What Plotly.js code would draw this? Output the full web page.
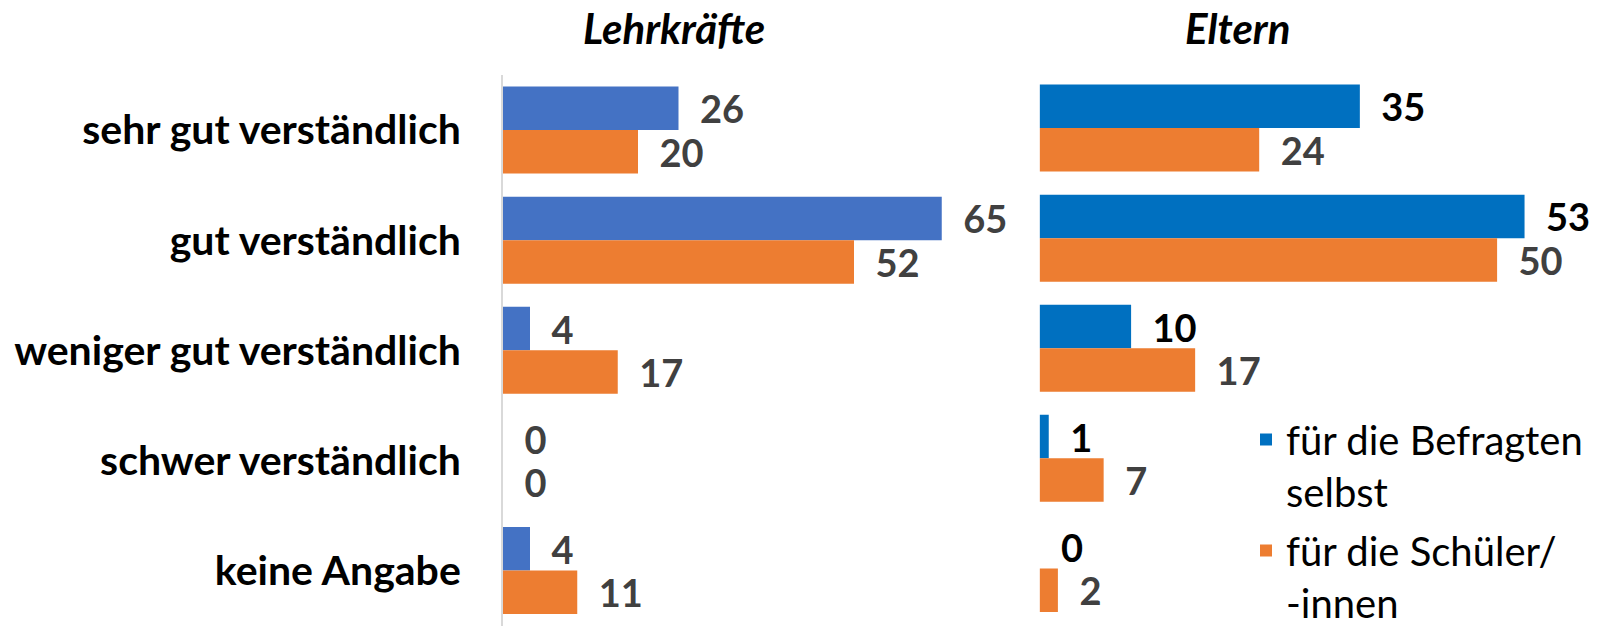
<!DOCTYPE html>
<html>
<head>
<meta charset="utf-8">
<script src="https://cdn.plot.ly/plotly-3.0.1.min.js"></script>
<style>html,body{margin:0;padding:0;background:#fff;}#chart{width:1609px;height:629px;}</style>
</head>
<body>
<div id="chart"></div>
<script>
const categories = ["sehr gut verständlich", "gut verständlich", "weniger gut verständlich", "schwer verständlich", "keine Angabe"];
const panelTitles = ["Lehrkräfte", "Eltern"];
const seriesNames = ["für die Befragten<br>selbst", "für die Schüler/<br>-innen"];
const lehrkraefteSelbst = [26, 65, 4, 0, 4];
const lehrkraefteSchueler = [20, 52, 17, 0, 11];
const elternSelbst = [35, 53, 10, 1, 0];
const elternSchueler = [24, 50, 17, 7, 2];

const FONT = "Lato, 'Open Sans', sans-serif";
const LBL = 38;
const tmpl = "\u00a0\u00a0%{x}";

function barTrace(x, color, textColor, xa, ya, name, showlegend, group) {
  return {
    type: "bar", orientation: "h", x: x, y: categories, name: name,
    xaxis: xa, yaxis: ya, showlegend: showlegend, legendgroup: group,
    marker: {color: color},
    texttemplate: tmpl, textposition: "outside", cliponaxis: false,
    constraintext: "none",
    textfont: {family: FONT, size: LBL, color: textColor, weight: 700},
    hoverinfo: "skip"
  };
}

const data = [
  barTrace(lehrkraefteSelbst, "#4472C4", "#404040", "x", "y", seriesNames[0], false, "g1"),
  barTrace(lehrkraefteSchueler, "#ED7D31", "#404040", "x", "y", seriesNames[1], false, "g2"),
  barTrace(elternSelbst, "#0070C0", "#000000", "x2", "y2", seriesNames[0], true, "g1"),
  barTrace(elternSchueler, "#ED7D31", "#404040", "x2", "y2", seriesNames[1], true, "g2")
];

const W = 1609, H = 629;
const layout = {
  width: W, height: H,
  margin: {l: 0, r: 0, t: 0, b: 0, autoexpand: false},
  paper_bgcolor: "#ffffff", plot_bgcolor: "rgba(0,0,0,0)",
  barmode: "group", bargap: 0.21, bargroupgap: 0,
  font: {family: FONT, color: "#000"},
  xaxis: {domain: [503 / W, 1000 / W], range: [0, 497 / 6.75], showgrid: false, zeroline: false, showticklabels: false, ticks: "", fixedrange: true},
  yaxis: {domain: [1 - 625.6 / H, 1 - 75 / H], type: "category", categoryorder: "array", categoryarray: categories,
          range: [4.5, -0.5], anchor: "x", showgrid: false, zeroline: false, ticks: "",
          showline: true, linecolor: "#D9D9D9", linewidth: 2,
          ticklabelstandoff: 32, automargin: false,
          tickfont: {family: FONT, size: 41, color: "#000", weight: 700}},
  xaxis2: {domain: [1039.6 / W, 1600 / W], range: [0, 560.4 / 9.15], anchor: "y2", showgrid: false, zeroline: false, showticklabels: false, ticks: "", fixedrange: true},
  yaxis2: {domain: [1 - 623.5 / H, 1 - 73 / H], type: "category", categoryorder: "array", categoryarray: categories,
           range: [4.5, -0.5], anchor: "x2", showgrid: false, zeroline: false, ticks: "", showline: false, showticklabels: false},
  legend: {x: 1246 / W, y: 1 - 407 / H, xanchor: "left", yanchor: "top", traceorder: "grouped", tracegroupgap: 4,
           valign: "top",
           font: {family: FONT, size: 40, color: "#000"}, bgcolor: "rgba(0,0,0,0)"},
  annotations: [
    {text: "<b><i>" + panelTitles[0] + "</i></b>", x: 674 / W, y: 1 - 28 / H, xref: "paper", yref: "paper",
     xanchor: "center", yanchor: "middle", showarrow: false, font: {family: FONT, size: 42, color: "#000"}},
    {text: "<b><i>" + panelTitles[1] + "</i></b>", x: 1237 / W, y: 1 - 28 / H, xref: "paper", yref: "paper",
     xanchor: "center", yanchor: "middle", showarrow: false, font: {family: FONT, size: 42, color: "#000"}}
  ]
};

Plotly.newPlot("chart", data, layout, {displayModeBar: false, staticPlot: true});
</script>
</body>
</html>
